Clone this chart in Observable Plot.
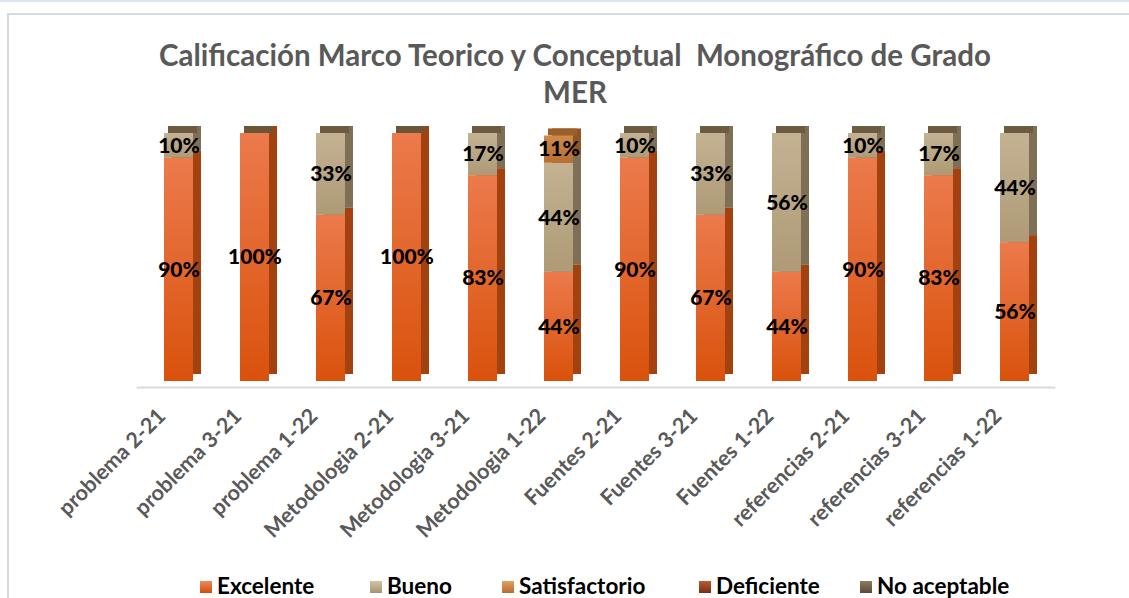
<!DOCTYPE html>
<html>
<head>
<meta charset="utf-8">
<script src="https://cdn.jsdelivr.net/npm/d3@7"></script>
<script src="https://cdn.jsdelivr.net/npm/@observablehq/plot@0.6"></script>
<style>
  html, body { margin: 0; padding: 0; background: #fff; overflow: hidden; width: 1129px; height: 598px; }
  body { position: relative; font-family: Lato, "Open Sans", sans-serif; }
  #topline { position: absolute; left: 0; top: 0; width: 1129px; height: 2px; background: #dce6f2; }
  #frame { position: absolute; left: 7px; top: 13px; width: 1200px; height: 700px; border: 2px solid #d9d9d9; }
  #title { position: absolute; left: 0; top: 36px; width: 1150px; text-align: center; font-weight: 700; font-size: 29.5px; line-height: 37px; color: #595959; }
  #chart { position: absolute; left: 0; top: 110px; }
  #legend { position: absolute; left: 0; top: 573px; width: 1129px; height: 25px; font-weight: 700; font-size: 22.5px; color: #000; white-space: nowrap; }
  #legend span.item { position: absolute; top: 0; display: flex; align-items: center; line-height: 25px; }
  #legend span.sw { display: inline-block; width: 12px; height: 12px; margin-right: 5px; margin-top: 3px; }
</style>
</head>
<body>
<div id="topline"></div>
<div id="frame"></div>
<div id="title">Calificación Marco Teorico y Conceptual&nbsp; Monográfico de Grado<br>MER</div>
<div id="chart"></div>
<div id="legend"></div>
<svg width="0" height="0" style="position:absolute">
  <defs>
    <linearGradient id="gExc" x1="0" y1="0" x2="0" y2="1">
      <stop offset="0" stop-color="#ec7a4c"/>
      <stop offset="1" stop-color="#d9520c"/>
    </linearGradient>
    <linearGradient id="gBue" x1="0" y1="0" x2="0" y2="1">
      <stop offset="0" stop-color="#c4b293"/>
      <stop offset="1" stop-color="#ae9a76"/>
    </linearGradient>
    <linearGradient id="gSat" x1="0" y1="0" x2="0" y2="1">
      <stop offset="0" stop-color="#cf8a4c"/>
      <stop offset="1" stop-color="#b86e30"/>
    </linearGradient>
    <linearGradient id="gDef" x1="0" y1="0" x2="0" y2="1">
      <stop offset="0" stop-color="#a04a28"/>
      <stop offset="1" stop-color="#7e3214"/>
    </linearGradient>
    <linearGradient id="gNoa" x1="0" y1="0" x2="0" y2="1">
      <stop offset="0" stop-color="#7c6b52"/>
      <stop offset="1" stop-color="#5e4f3a"/>
    </linearGradient>
  </defs>
</svg>
<script>
const categories = ["problema 2-21","problema 3-21","problema 1-22","Metodologia 2-21","Metodologia 3-21","Metodologia 1-22","Fuentes 2-21","Fuentes 3-21","Fuentes 1-22","referencias 2-21","referencias 3-21","referencias 1-22"];
const seriesNames = ["Excelente","Bueno","Satisfactorio","Deficiente","No aceptable"];
const excelente     = [90,100,67,100,83,44,90,67,44,90,83,56];
const bueno         = [10,0,33,0,17,44,10,33,56,10,17,44];
const satisfactorio = [0,0,0,0,0,11,0,0,0,0,0,0];
const deficiente    = [0,0,0,0,0,0,0,0,0,0,0,0];
const noAceptable   = [0,0,0,0,0,0,0,0,0,0,0,0];

const frontFill = {"Excelente":"url(#gExc)","Bueno":"url(#gBue)","Satisfactorio":"url(#gSat)","Deficiente":"url(#gDef)","No aceptable":"url(#gNoa)"};
const sideFill  = {"Excelente":"#a3420f","Bueno":"#7f6f54","Satisfactorio":"#8f5526","Deficiente":"#5e240d","No aceptable":"#463a2a"};
const topFill   = {"Excelente":"#6b5537","Bueno":"#6c5b40","Satisfactorio":"#9b5f2a","Deficiente":"#6b2a10","No aceptable":"#3e3325"};
const swatch    = {"Excelente":"linear-gradient(#f08a5a,#d04c0c)","Bueno":"linear-gradient(#d2c2a6,#a8936e)","Satisfactorio":"linear-gradient(#e0a060,#b86e30)","Deficiente":"linear-gradient(#b85a38,#7a2e10)","No aceptable":"linear-gradient(#8c7b62,#5a4b36)"};
const legendLeft = {"Excelente":200,"Bueno":370,"Satisfactorio":502,"Deficiente":699,"No aceptable":860};

const valuesBySeries = [excelente, bueno, satisfactorio, deficiente, noAceptable];
const rows = [];
const tops = [];
categories.forEach((cat, i) => {
  let acc = 0, topSerie = null;
  seriesNames.forEach((s, k) => {
    const v = valuesBySeries[k][i];
    if (v > 0) {
      rows.push({cat, serie: s, value: v, y1: acc, y2: acc + v});
      acc += v; topSerie = s;
    }
  });
  tops.push({cat, total: acc, serie: topSerie});
});

const W = 1129, H = 455;
const labelFont = "Lato, 'Open Sans', sans-serif";

const marks = [
  Plot.ruleY([0], {dy: 6, stroke: "#d9d9d9", strokeWidth: 2}),
  Plot.barY(rows, {x: "cat", y1: "y1", y2: "y2", fill: d => sideFill[d.serie], dx: 8, dy: -7}),
  Plot.barY(tops, {x: "cat", y1: "total", y2: "total", insetTop: -7, dx: 4, fill: d => topFill[d.serie]}),
  ...seriesNames.map(s => Plot.barY(rows.filter(d => d.serie === s), {x: "cat", y1: "y1", y2: "y2", fill: frontFill[s]})),
  Plot.text(rows, {x: "cat", y: d => (d.y1 + d.y2) / 2, text: d => d.value + "%", fontSize: 21, fontWeight: 900, fill: "#000", fontFamily: labelFont}),
  Plot.text(categories, {x: d => d, y: () => 0, text: d => d, rotate: -45, textAnchor: "end", dx: -17, dy: 31, fontSize: 21.5, fontWeight: 700, fill: "#595959", fontFamily: labelFont})
];

const chart = Plot.plot({
  width: W, height: H,
  marginLeft: 136.7, marginRight: 73.7, marginTop: 23, marginBottom: 184,
  x: {type: "band", domain: categories, paddingInner: 0.62, paddingOuter: 0.31, axis: null},
  y: {domain: [0, 100], axis: null},
  style: {background: "transparent", overflow: "visible"},
  marks
});
document.getElementById("chart").appendChild(chart);

const legend = document.getElementById("legend");
seriesNames.forEach(s => {
  const it = document.createElement("span");
  it.className = "item";
  it.style.left = legendLeft[s] + "px";
  const sw = document.createElement("span");
  sw.className = "sw";
  sw.style.background = swatch[s];
  it.appendChild(sw);
  it.appendChild(document.createTextNode(s));
  legend.appendChild(it);
});
</script>
</body>
</html>
